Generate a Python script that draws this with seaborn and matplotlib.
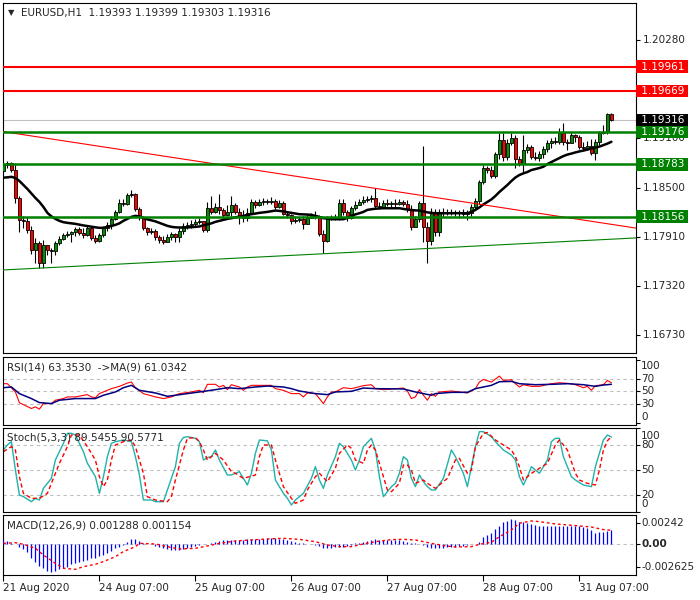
import numpy as np
import pandas as pd
import matplotlib.pyplot as plt
import matplotlib.transforms as mtransforms
import seaborn as sns

sns.set_theme(style="white")
plt.rcParams["font.family"] = ["DejaVu Sans"]
plt.rcParams["axes.edgecolor"] = "black"
plt.rcParams["axes.linewidth"] = 0.8

# ---- EURUSD H1 candles (bar 0 = 21 Aug 2020) ----
first_open = 1.18704
closes = [
    1.18776, 1.18800, 1.18716, 1.18380, 1.18116, 1.18104, 1.17996, 1.17756, 1.17840, 1.17600,
    1.17816, 1.17756, 1.17744, 1.17840, 1.17888, 1.17936, 1.17948, 1.17972, 1.18008, 1.17960,
    1.17936, 1.18020, 1.17900, 1.17864, 1.17936, 1.18020, 1.18056, 1.18128, 1.18212, 1.18320,
    1.18308, 1.18416, 1.18428, 1.18248, 1.18152, 1.18020, 1.17972, 1.17984, 1.17912, 1.17876,
    1.17852, 1.17912, 1.17948, 1.17912, 1.17984, 1.18044, 1.18056, 1.18068, 1.18092, 1.18104,
    1.17996, 1.18260, 1.18212, 1.18272, 1.18236, 1.18176, 1.18212, 1.18296, 1.18212, 1.18164,
    1.18140, 1.18200, 1.18332, 1.18296, 1.18332, 1.18344, 1.18332, 1.18344, 1.18272, 1.18320,
    1.18188, 1.18176, 1.18104, 1.18116, 1.18128, 1.18068, 1.18140, 1.18176, 1.18164, 1.17948,
    1.17864, 1.18128, 1.18140, 1.18152, 1.18320, 1.18212, 1.18140, 1.18260, 1.18296, 1.18332,
    1.18356, 1.18368, 1.18380, 1.18284, 1.18272, 1.18320, 1.18308, 1.18320, 1.18308, 1.18332,
    1.18308, 1.18248, 1.18032, 1.18128, 1.18320, 1.18032, 1.17864, 1.18212, 1.17972, 1.18212,
    1.18200, 1.18212, 1.18200, 1.18212, 1.18200, 1.18188, 1.18200, 1.18272, 1.18344, 1.18572,
    1.18740, 1.18716, 1.18644, 1.18908, 1.19076, 1.18872, 1.19040, 1.19100, 1.18848, 1.18788,
    1.18956, 1.18992, 1.18872, 1.18860, 1.18908, 1.18968, 1.19040, 1.19064, 1.19052, 1.19160,
    1.19052, 1.19040, 1.19136, 1.19112, 1.18992, 1.18980, 1.19004, 1.18920, 1.19052, 1.19160,
    1.19172, 1.19393, 1.19316,
]
highs = [
    1.18812, 1.18824, 1.18812, 1.18800, 1.18404, 1.18164, 1.18152, 1.18044, 1.17900, 1.17864,
    1.17876, 1.17816, 1.17780, 1.17864, 1.17924, 1.17960, 1.17984, 1.17984, 1.18032, 1.18032,
    1.18020, 1.18044, 1.18044, 1.17936, 1.17960, 1.18044, 1.18092, 1.18164, 1.18236, 1.18368,
    1.18368, 1.18440, 1.18476, 1.18440, 1.18272, 1.18164, 1.18032, 1.18020, 1.18008, 1.17936,
    1.17924, 1.17948, 1.17972, 1.17960, 1.18020, 1.18080, 1.18092, 1.18116, 1.18128, 1.18140,
    1.18104, 1.18332, 1.18404, 1.18320, 1.18428, 1.18260, 1.18296, 1.18404, 1.18320, 1.18260,
    1.18236, 1.18260, 1.18368, 1.18356, 1.18368, 1.18380, 1.18368, 1.18392, 1.18368, 1.18356,
    1.18344, 1.18224, 1.18188, 1.18164, 1.18152, 1.18164, 1.18188, 1.18200, 1.18224, 1.18176,
    1.17996, 1.18164, 1.18176, 1.18188, 1.18368, 1.18368, 1.18236, 1.18284, 1.18344, 1.18368,
    1.18404, 1.18404, 1.18416, 1.18500, 1.18332, 1.18356, 1.18368, 1.18344, 1.18368, 1.18368,
    1.18356, 1.18356, 1.18296, 1.18164, 1.18344, 1.19004, 1.18092, 1.18260, 1.18248, 1.18248,
    1.18260, 1.18248, 1.18248, 1.18236, 1.18236, 1.18248, 1.18236, 1.18308, 1.18380, 1.18596,
    1.18776, 1.18764, 1.18764, 1.18932, 1.19160, 1.19160, 1.19088, 1.19160, 1.19136, 1.18884,
    1.19136, 1.19028, 1.19016, 1.18932, 1.18944, 1.19004, 1.19076, 1.19100, 1.19112, 1.19220,
    1.19280, 1.19088, 1.19172, 1.19148, 1.19136, 1.19052, 1.19064, 1.19088, 1.19088, 1.19184,
    1.19256, 1.19397, 1.19399,
]
lows = [
    1.18680, 1.18740, 1.18692, 1.18320, 1.17972, 1.18020, 1.17960, 1.17708, 1.17600, 1.17540,
    1.17540, 1.17696, 1.17600, 1.17696, 1.17816, 1.17876, 1.17912, 1.17852, 1.17924, 1.17936,
    1.17900, 1.17924, 1.17876, 1.17840, 1.17852, 1.17912, 1.17984, 1.18008, 1.18116, 1.18200,
    1.18284, 1.18296, 1.18392, 1.18224, 1.18116, 1.17996, 1.17936, 1.17948, 1.17876, 1.17840,
    1.17828, 1.17852, 1.17876, 1.17852, 1.17852, 1.17948, 1.18008, 1.18020, 1.18044, 1.18068,
    1.17972, 1.17972, 1.18188, 1.18200, 1.18188, 1.18128, 1.18164, 1.18164, 1.18188, 1.18068,
    1.18092, 1.18104, 1.18188, 1.18260, 1.18284, 1.18296, 1.18308, 1.18308, 1.18248, 1.18260,
    1.18176, 1.18140, 1.18068, 1.18080, 1.18092, 1.18008, 1.18092, 1.18140, 1.18128, 1.17924,
    1.17720, 1.17852, 1.18116, 1.18116, 1.18116, 1.18176, 1.18104, 1.18128, 1.18236, 1.18296,
    1.18308, 1.18332, 1.18332, 1.18260, 1.18248, 1.18272, 1.18284, 1.18272, 1.18272, 1.18296,
    1.18284, 1.18212, 1.17996, 1.18068, 1.18092, 1.17852, 1.17600, 1.17816, 1.17924, 1.17924,
    1.18152, 1.18176, 1.18176, 1.18164, 1.18140, 1.18164, 1.18116, 1.18164, 1.18248, 1.18308,
    1.18548, 1.18680, 1.18620, 1.18620, 1.18848, 1.18824, 1.18836, 1.19016, 1.18740, 1.18764,
    1.18680, 1.18920, 1.18848, 1.18836, 1.18824, 1.18860, 1.18932, 1.18980, 1.19028, 1.19028,
    1.19016, 1.18956, 1.19040, 1.19052, 1.18968, 1.18956, 1.18956, 1.18896, 1.18836, 1.19016,
    1.19148, 1.19148, 1.19303,
]
# black moving average on the price pane
ma_line = [
    1.18624, 1.18628, 1.18634, 1.18620, 1.18584, 1.18536, 1.18488, 1.18434, 1.18380, 1.18332,
    1.18272, 1.18200, 1.18158, 1.18128, 1.18104, 1.18088, 1.18080, 1.18074, 1.18068, 1.18058,
    1.18049, 1.18042, 1.18034, 1.18026, 1.18020, 1.18020, 1.18032, 1.18042, 1.18056, 1.18074,
    1.18104, 1.18128, 1.18152, 1.18164, 1.18158, 1.18136, 1.18122, 1.18110, 1.18098, 1.18080,
    1.18062, 1.18044, 1.18032, 1.18026, 1.18024, 1.18024, 1.18024, 1.18028, 1.18032, 1.18036,
    1.18050, 1.18062, 1.18074, 1.18092, 1.18104, 1.18116, 1.18128, 1.18136, 1.18146, 1.18156,
    1.18164, 1.18176, 1.18184, 1.18192, 1.18200, 1.18206, 1.18212, 1.18220, 1.18228, 1.18224,
    1.18218, 1.18208, 1.18200, 1.18192, 1.18184, 1.18182, 1.18180, 1.18176, 1.18164, 1.18150,
    1.18136, 1.18130, 1.18124, 1.18124, 1.18124, 1.18124, 1.18140, 1.18164, 1.18182, 1.18196,
    1.18212, 1.18236, 1.18244, 1.18250, 1.18254, 1.18256, 1.18256, 1.18256, 1.18256, 1.18256,
    1.18248, 1.18240, 1.18234, 1.18230, 1.18228, 1.18218, 1.18206, 1.18200, 1.18196, 1.18196,
    1.18196, 1.18196, 1.18196, 1.18196, 1.18196, 1.18196, 1.18196, 1.18212, 1.18236, 1.18266,
    1.18302, 1.18332, 1.18362, 1.18404, 1.18452, 1.18494, 1.18536, 1.18584, 1.18626, 1.18656,
    1.18676, 1.18692, 1.18716, 1.18728, 1.18740, 1.18756, 1.18788, 1.18812, 1.18836, 1.18860,
    1.18884, 1.18902, 1.18914, 1.18928, 1.18940, 1.18950, 1.18962, 1.18976, 1.18986, 1.18998,
    1.19016, 1.19034, 1.19056,
]

# levels and trendlines
red_levels = [1.19961, 1.19669]
green_levels = [1.19176, 1.18783, 1.18156]
bid_price = 1.19316
red_trend = [(0, 1.19178), (158, 1.18018)]
green_trend = [(0, 1.17513), (158, 1.17898)]
price_ticks = [1.20280, 1.19100, 1.18500, 1.17910, 1.17320, 1.16730]

# RSI(14) and its MA(9)
rsi_bars = [0, 1, 3, 4, 5, 7, 8, 9, 10, 12, 13, 15, 16, 18, 21, 22, 23, 24, 27, 29,
            31, 32, 33, 35, 38, 40, 42, 44, 47, 49, 50, 51, 53, 54, 55, 56, 57, 59, 60, 61,
            62, 64, 67, 68, 70, 72, 74, 75, 76, 78, 79, 80, 81, 82, 83, 85, 87, 88, 90, 92,
            93, 95, 98, 100, 101, 102, 103, 104, 105, 106, 107, 108, 109, 112, 114, 116, 118, 119, 120, 122,
            124, 125, 127, 128, 129, 130, 132, 134, 137, 139, 142, 143, 145, 146, 147, 148, 150, 151, 152]
rsi_vals = [62, 62, 49, 32, 29, 23, 25.5, 22, 30.7, 30.7, 36, 38.6, 41.2, 41.2, 44.8, 41.2, 40.1, 46.4, 54.2, 57.8,
            63, 64.6, 55.7, 46.4, 41.2, 38.6, 41.2, 46.4, 49, 51.6, 47.9, 61, 61, 56.8, 59.4, 52.6, 60.4, 56.8, 51.6, 56.8,
            59.4, 59.4, 59.4, 54.2, 51.6, 46.4, 46.4, 41.2, 47.4, 46.4, 38.6, 30.7, 41.2, 49, 49, 55.7, 54.2, 55.7, 58.9, 60.4,
            54.2, 52.6, 54.2, 55.2, 50.5, 38.6, 41.2, 52.6, 43.8, 36, 46.4, 42.2, 49, 50.5, 49, 47.4, 54.2, 64.6, 68.7, 64.6,
            74, 67.2, 68.2, 62, 56.8, 60.4, 57.8, 57.8, 62, 63.5, 62, 60.4, 55.7, 57.8, 51.6, 58.9, 60.4, 67.2, 63.35]
rsi_ma_bars = [0, 2, 4, 7, 9, 12, 14, 18, 23, 25, 28, 30, 32, 34, 38, 41, 43, 46, 49, 53,
               56, 59, 63, 66, 70, 72, 74, 78, 81, 83, 87, 90, 93, 100, 103, 107, 108, 112, 116, 118,
               122, 124, 127, 129, 133, 137, 141, 145, 148, 150, 152]
rsi_ma_vals = [55.7, 56.8, 46.4, 38.6, 32.3, 30.7, 36, 38.6, 38.6, 43.8, 49, 55.7, 59.4, 51.6, 47.4, 42.2, 43.8, 46.4, 49, 52.6,
               55.7, 54.2, 56.8, 58.3, 56.8, 54.2, 50.5, 46.4, 44.8, 49, 50, 55.2, 54.2, 53.7, 49, 43.8, 46.4, 48.4, 48.4, 54.2,
               59.4, 65.1, 65.6, 62, 60.4, 61, 62, 60.4, 57.8, 59.9, 61.03]

# Stochastic(5,3,3)
k_bars = [0, 1, 2, 3, 4, 5, 7, 8, 9, 10, 12, 13, 15, 16, 17, 18, 20, 21, 23, 24,
          25, 26, 27, 28, 30, 32, 33, 34, 35, 37, 38, 40, 41, 43, 44, 45, 46, 48, 49, 50,
          51, 52, 53, 54, 56, 57, 59, 60, 61, 62, 63, 64, 66, 67, 68, 70, 71, 72, 73, 75,
          77, 78, 79, 80, 81, 83, 84, 85, 87, 88, 89, 90, 92, 93, 94, 95, 96, 97, 98, 99,
          100, 101, 102, 103, 104, 105, 106, 107, 108, 110, 112, 113, 115, 116, 117, 118, 119, 120, 122, 123,
          125, 127, 128, 129, 130, 131, 132, 133, 134, 136, 137, 138, 139, 140, 142, 143, 145, 147, 148, 150,
          151, 152]
k_vals = [74, 80, 84, 50, 20, 18, 12, 16, 14, 28, 40, 62, 82, 94, 94, 92, 72, 58, 42, 22,
          42, 66, 82, 84, 86, 84, 66, 44, 14, 14, 12, 12, 26, 54, 82, 89, 90, 88, 84, 62,
          65, 66, 74, 62, 44, 44, 48, 40, 32, 46, 70, 86, 85, 74, 38, 22, 16, 8, 14, 22,
          40, 54, 38, 28, 44, 66, 82, 78, 62, 50, 62, 78, 88, 74, 42, 18, 24, 30, 34, 46,
          66, 62, 40, 30, 44, 36, 30, 26, 26, 40, 74, 66, 46, 30, 54, 78, 96, 96, 90, 84,
          74, 68, 62, 42, 32, 42, 54, 50, 46, 62, 84, 88, 88, 66, 42, 38, 32, 30, 54, 86,
          92, 89.55]
d_bars = [0, 2, 3, 4, 5, 7, 9, 11, 12, 14, 16, 17, 19, 21, 23, 24, 25, 26, 27, 28,
          30, 32, 33, 35, 36, 38, 41, 42, 43, 45, 46, 48, 49, 50, 51, 53, 55, 57, 58, 60,
          63, 64, 65, 67, 68, 70, 72, 73, 75, 76, 78, 79, 81, 83, 84, 86, 87, 88, 90, 91,
          92, 93, 94, 96, 97, 99, 100, 101, 102, 103, 105, 106, 108, 111, 113, 114, 116, 117, 118, 120,
          121, 123, 125, 127, 128, 129, 130, 132, 134, 136, 138, 139, 141, 143, 144, 146, 148, 149, 150, 151,
          152]
d_vals = [72, 78, 74, 42, 22, 16, 16, 22, 34, 58, 78, 92, 92, 78, 62, 42, 30, 38, 62, 80,
          84, 86, 78, 46, 18, 14, 12, 18, 38, 74, 88, 89, 84, 74, 62, 70, 62, 48, 46, 40,
          44, 66, 80, 80, 62, 30, 16, 10, 14, 26, 42, 46, 36, 52, 70, 80, 76, 62, 58, 74,
          80, 74, 58, 26, 24, 34, 56, 56, 50, 34, 38, 34, 28, 40, 62, 64, 46, 50, 78, 94,
          95, 86, 80, 74, 66, 54, 38, 46, 52, 58, 80, 86, 74, 46, 38, 34, 32, 50, 74, 85,
          90.58]

# MACD(12,26,9): histogram per bar and signal line
macd_hist = [
    0.0005, 0.0004, 0.0002, 0.0, -0.00027, -0.00057, -0.00092, -0.00153, -0.002, -0.0025,
    -0.00276, -0.00303, -0.00315, -0.00303, -0.00288, -0.00268, -0.00257, -0.0023, -0.00219, -0.00207,
    -0.00192, -0.0018, -0.00161, -0.00153, -0.0013, -0.00123, -0.00104, -0.00077, -0.00046, -0.00027,
    -0.00008, 0.00023, 0.00061, 0.00061, 0.00038, 0.00019, 0.0, -0.00002, -0.00015, -0.00027,
    -0.00038, -0.00054, -0.00065, -0.00065, -0.00065, -0.00057, -0.00046, -0.00034, -0.00023, -0.00012,
    -0.00002, 0.00008, 0.00019, 0.00027, 0.00038, 0.00046, 0.0005, 0.0005, 0.00054, 0.00054,
    0.00054, 0.00057, 0.00057, 0.00061, 0.00065, 0.00065, 0.00069, 0.00069, 0.00069, 0.00065,
    0.00057, 0.0005, 0.00042, 0.0003, 0.00019, 0.00011, 0.00004, 0.0, -0.00008, -0.00023,
    -0.00038, -0.00046, -0.00038, -0.00034, -0.00027, -0.00027, -0.00015, -0.00008, 0.0001, 0.0002,
    0.0003, 0.0004, 0.0005, 0.00057, 0.00054, 0.0005, 0.0005, 0.00054, 0.0005, 0.00046,
    0.0004, 0.0003, 0.0002, 0.0001, 0.00002, -0.00004, -0.00027, -0.00038, -0.00046, -0.00042,
    -0.00038, -0.00027, -0.00027, -0.00027, -0.0002, -0.00015, -0.00008, -0.00002, 0.0, 0.0003,
    0.0008, 0.00107, 0.00134, 0.00172, 0.00211, 0.00253, 0.00272, 0.00291, 0.00284, 0.00261,
    0.00253, 0.00242, 0.0023, 0.00222, 0.00215, 0.00215, 0.00215, 0.00215, 0.00215, 0.00215,
    0.00215, 0.00215, 0.00215, 0.00215, 0.00215, 0.00203, 0.00184, 0.00165, 0.00134, 0.00138,
    0.00146, 0.00153, 0.0016,
]
sig_bars = [0, 3, 5, 8, 10, 13, 15, 18, 20, 23, 25, 28, 30, 33, 34, 38, 41, 44, 48, 51,
            54, 58, 62, 66, 70, 74, 78, 81, 84, 87, 90, 93, 97, 100, 103, 107, 110, 113, 117, 119,
            122, 124, 127, 129, 132, 134, 138, 143, 147, 150, 152]
sig_vals = [0.00011, 0.00019, 0.0, -0.00046, -0.00123, -0.00219, -0.00276, -0.00288, -0.00257, -0.0023,
            -0.00199, -0.00142, -0.00084, -0.00027, 0.00011, 0.00004, -0.00027, -0.00054, -0.00046, -0.00019,
            0.00011, 0.00038, 0.0005, 0.00061, 0.00069, 0.00057, 0.0003, -0.00008, -0.00027, -0.00027,
            0.00004, 0.0003, 0.00054, 0.00057, 0.0005, 0.00011, -0.00015, -0.00031, -0.00027, 0.0,
            0.00023, 0.00088, 0.00165, 0.00242, 0.00268, 0.00261, 0.00234, 0.00215, 0.00199, 0.00169,
            0.00161]

date_ticks = [0, 24, 48, 72, 96, 120, 144]
date_labels = ["21 Aug 2020", "24 Aug 07:00", "25 Aug 07:00", "26 Aug 07:00",
               "27 Aug 07:00", "28 Aug 07:00", "31 Aug 07:00"]

# ---- build the candle table ----
n = len(closes)
bars = pd.DataFrame({"bar": np.arange(n), "open": [first_open] + closes[:-1],
                     "close": closes, "high": highs, "low": lows})
bars["high"] = bars[["high", "open", "close"]].max(axis=1)
bars["low"] = bars[["low", "open", "close"]].min(axis=1)
up = bars["close"] >= bars["open"]
body = (bars["close"] - bars["open"]).abs()
base = bars[["open", "close"]].min(axis=1)

FS = 7.5
W, H = 700, 600
fig = plt.figure(figsize=(7, 6), dpi=100)


def pane(top, bottom):
    ax = fig.add_axes([3 / W, 1 - bottom / H, 633 / W, (bottom - top) / H])
    ax.set_xlim(-0.1, 158.15)
    ax.tick_params(axis="y", left=False, right=True, labelleft=False, labelright=False,
                   length=3, width=0.8, color="black", direction="out")
    ax.tick_params(axis="x", bottom=False, labelbottom=False)
    for s in ax.spines.values():
        s.set_color("black")
        s.set_linewidth(0.8)
    return ax


def right_text(ax, y, s, dx=5, **kw):
    tr = mtransforms.blended_transform_factory(ax.transAxes, ax.transData)
    ax.text(1 + dx / 633, y, s, transform=tr, ha="left", va="center",
            fontsize=FS, clip_on=False, **kw)


ax_main = pane(3, 353)
ax_rsi = pane(357, 425)
ax_sto = pane(428, 512)
ax_macd = pane(515, 575)

# ---- price pane ----
ax_main.set_ylim(1.16513, 1.20727)
ax_main.set_yticks(price_ticks)
ax_main.axhline(bid_price, color="#C0C0C0", lw=0.8, zorder=1)
ax_main.vlines(bars["bar"], bars["low"], bars["high"], color="black", lw=0.8, zorder=3)
ax_main.bar(bars["bar"][up], body[up], bottom=base[up], width=0.7, color="#009000",
            edgecolor="black", linewidth=0.6, zorder=4)
ax_main.bar(bars["bar"][~up], body[~up], bottom=base[~up], width=0.7, color="#FF0000",
            edgecolor="black", linewidth=0.6, zorder=4)
sns.lineplot(x=bars["bar"], y=ma_line, ax=ax_main, color="black", lw=1.8, zorder=5)
ax_main.axline(red_trend[0], red_trend[1], color="#FF0000", lw=0.8, zorder=6)
ax_main.axline(green_trend[0], green_trend[1], color="#008000", lw=0.8, zorder=6)
for p in red_levels:
    ax_main.axhline(p, color="#FF0000", lw=1.5, zorder=6)
for p in green_levels:
    ax_main.axhline(p, color="#008000", lw=1.8, zorder=6)

for p in price_ticks:
    right_text(ax_main, p, f"{p:.5f}", dx=7, zorder=10)
tags = [(p, "#FF0000") for p in red_levels] + [(p, "#008000") for p in green_levels] + [(bid_price, "black")]
for p, col in tags:
    right_text(ax_main, p, f" {p:.5f} ", dx=1.5, color="white", zorder=11,
               bbox=dict(boxstyle="square,pad=0.12", fc=col, ec="none"))

fig.text(8 / W, 1 - 13 / H, "\u25bc", fontsize=6, va="center")
fig.text(21 / W, 1 - 13 / H, "EURUSD,H1  1.19393 1.19399 1.19303 1.19316", fontsize=FS, va="center")

# ---- RSI pane ----
ax_rsi.set_ylim(-3, 104)
ax_rsi.set_yticks([0, 30, 50, 70, 100])
for v in (30, 50, 70):
    ax_rsi.axhline(v, color="#BEBEBE", lw=0.8, ls=(0, (3, 3)), zorder=1)
sns.lineplot(x=rsi_bars, y=rsi_vals, ax=ax_rsi, color="#FF0000", lw=0.8)
sns.lineplot(x=rsi_ma_bars, y=rsi_ma_vals, ax=ax_rsi, color="#000080", lw=1.1)
for v, s in [(90.2, "100"), (70, "70"), (50, "50"), (30, "30"), (9.4, "0")]:
    right_text(ax_rsi, v, s)
fig.text(7 / W, 1 - 367 / H, "RSI(14) 63.3530  ->MA(9) 61.0342", fontsize=FS, va="center")

# ---- Stochastic pane ----
ax_sto.set_ylim(-0.4, 100.4)
ax_sto.set_yticks([0, 20, 50, 80, 100])
for v in (20, 50, 80):
    ax_sto.axhline(v, color="#BEBEBE", lw=0.8, ls=(0, (3, 3)), zorder=1)
sns.lineplot(x=k_bars, y=k_vals, ax=ax_sto, color="#20B2AA", lw=1.0)
sns.lineplot(x=d_bars, y=d_vals, ax=ax_sto, color="#FF0000", lw=1.0, ls=(0, (3, 2)))
for v, s in [(90.3, "100"), (80, "80"), (50, "50"), (20, "20"), (9.5, "0")]:
    right_text(ax_sto, v, s)
fig.text(7 / W, 1 - 438 / H, "Stoch(5,3,3) 89.5455 90.5771", fontsize=FS, va="center")

# ---- MACD pane ----
ax_macd.set_ylim(-0.00353, 0.00337)
ax_macd.set_yticks([-0.002625, 0, 0.00242])
ax_macd.axhline(0, color="#BEBEBE", lw=0.8, ls=(0, (3, 3)), zorder=1)
ax_macd.vlines(bars["bar"], 0, macd_hist, color="#0000FF", lw=0.9, zorder=3)
sns.lineplot(x=sig_bars, y=sig_vals, ax=ax_macd, color="#FF0000", lw=1.0, ls=(0, (2, 2)), zorder=4)
right_text(ax_macd, 0.00242, "0.00242")
right_text(ax_macd, 0, "0.00", fontweight="bold")
right_text(ax_macd, -0.002625, "-0.002625")
fig.text(7 / W, 1 - 525 / H, "MACD(12,26,9) 0.001288 0.001154", fontsize=FS, va="center")

ax_macd.set_xticks(date_ticks)
ax_macd.set_xticklabels(date_labels, ha="left", fontsize=FS)
ax_macd.tick_params(axis="x", bottom=True, labelbottom=True, length=4, width=0.8,
                    pad=2, color="black", direction="out")

for ax in (ax_main, ax_rsi, ax_sto, ax_macd):
    ax.set_xlabel("")
    ax.set_ylabel("")

fig.savefig("out.png", dpi=100)
